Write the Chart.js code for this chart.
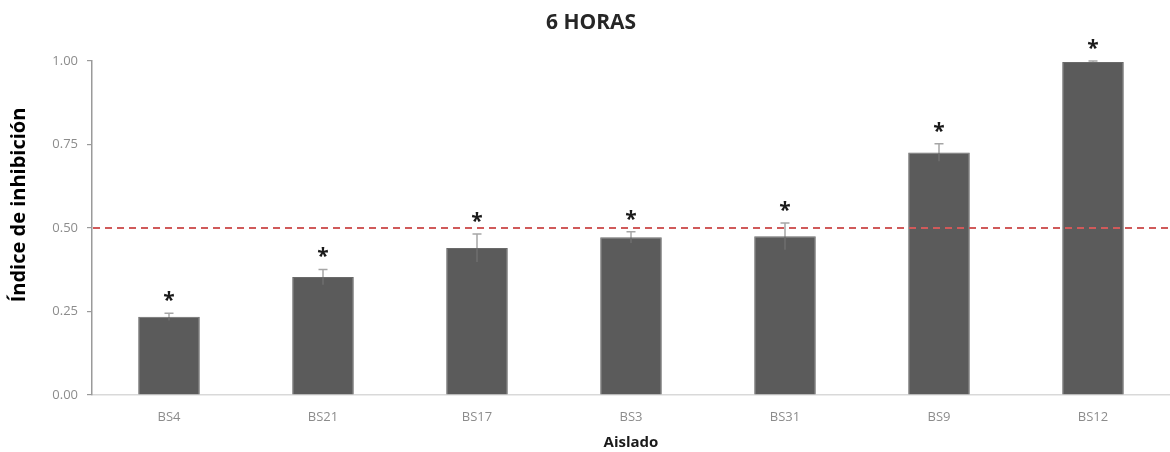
<!DOCTYPE html>
<html>
<head>
<meta charset="utf-8">
<title>6 HORAS</title>
<script src="https://cdn.jsdelivr.net/npm/chart.js@4/dist/chart.umd.min.js"></script>
<style>
  html, body { margin: 0; padding: 0; background: #fff; }
  #wrap { width: 1170px; height: 452px; position: relative; }
</style>
</head>
<body>
<div id="wrap"><canvas id="chart" width="1170" height="452"></canvas></div>
<script>
// Inhibition index per isolate after 6 hours
const categories = ['BS4', 'BS21', 'BS17', 'BS3', 'BS31', 'BS9', 'BS12'];
const meanValues = [0.234, 0.353, 0.440, 0.472, 0.475, 0.726, 0.997];
const errorValues = [0.011, 0.023, 0.042, 0.017, 0.040, 0.026, 0.003];
const significance = ['*', '*', '*', '*', '*', '*', '*'];
const yTicks = [0, 0.25, 0.5, 0.75, 1.0];
const threshold = 0.5;

const FONT = "'Open Sans', 'DejaVu Sans', sans-serif";

// Error bars, significance marks, threshold line and titles
const overlay = {
  id: 'overlay',
  afterDatasetsDraw(chart) {
    const { ctx, chartArea, scales } = chart;
    const y = scales.y;
    const meta = chart.getDatasetMeta(0);
    ctx.save();
    meta.data.forEach((bar, i) => {
      const cx = bar.x;
      const top = y.getPixelForValue(meanValues[i] + errorValues[i]);
      const mid = y.getPixelForValue(meanValues[i]);
      const low = y.getPixelForValue(meanValues[i] - errorValues[i]);
      ctx.lineWidth = 1.5;
      ctx.strokeStyle = '#6e6e6e';
      ctx.beginPath(); ctx.moveTo(cx, mid); ctx.lineTo(cx, low); ctx.stroke();
      ctx.strokeStyle = '#a6a6a6';
      ctx.beginPath();
      ctx.moveTo(cx, mid); ctx.lineTo(cx, top);
      ctx.moveTo(cx - 4.5, top); ctx.lineTo(cx + 4.5, top);
      ctx.stroke();
      ctx.fillStyle = '#1a1a1a';
      ctx.font = "bold 21px " + FONT;
      ctx.textAlign = 'center';
      ctx.textBaseline = 'middle';
      ctx.fillText(significance[i], cx, top - 12);
    });
    // 0.5 threshold
    const ty = y.getPixelForValue(threshold);
    ctx.strokeStyle = '#d05a5a';
    ctx.lineWidth = 1.8;
    ctx.setLineDash([7, 5]);
    ctx.beginPath();
    ctx.moveTo(chartArea.left + 1, ty);
    ctx.lineTo(chart.width, ty);
    ctx.stroke();
    ctx.setLineDash([]);
    // chart title
    ctx.fillStyle = '#262626';
    ctx.font = "bold 21px " + FONT;
    ctx.textAlign = 'center';
    ctx.textBaseline = 'middle';
    ctx.fillText('6 HORAS', 591, 23);
    // y axis title
    ctx.translate(19, 205);
    ctx.rotate(-Math.PI / 2);
    ctx.fillStyle = '#000';
    ctx.font = "bold 20px " + FONT;
    ctx.fillText('Índice de inhibición', 0, 0);
    ctx.restore();
  }
};

new Chart(document.getElementById('chart'), {
  type: 'bar',
  data: {
    labels: categories,
    datasets: [{
      data: meanValues,
      backgroundColor: '#5b5b5b',
      borderColor: '#6a6a6a',
      borderWidth: 1,
      categoryPercentage: 1.0,
      barPercentage: 0.40
    }]
  },
  options: {
    responsive: false,
    animation: false,
    devicePixelRatio: 1,
    layout: { padding: { top: 61, right: 0, bottom: 0, left: 0 } },
    plugins: {
      legend: { display: false },
      tooltip: { enabled: false },
      title: { display: false }
    },
    scales: {
      x: {
        grid: { display: false, drawTicks: false },
        border: { display: true, color: '#d9d9d9', width: 1.5 },
        ticks: {
          color: '#8c8c8c',
          font: { family: FONT, size: 13 },
          padding: 14
        },
        title: {
          display: true,
          text: 'Aislado',
          color: '#1a1a1a',
          font: { family: FONT, size: 15, weight: 'bold' },
          padding: { top: 0, bottom: 0 }
        },
        afterFit(scale) { scale.height = 57; }
      },
      y: {
        min: 0,
        max: 1,
        afterBuildTicks(scale) { scale.ticks = yTicks.map(v => ({ value: v })); },
        grid: {
          display: true,
          drawOnChartArea: false,
          drawTicks: true,
          tickLength: 5,
          color: '#9a9a9a',
          lineWidth: 1.2
        },
        border: { display: true, color: '#9a9a9a', width: 1.5 },
        ticks: {
          color: '#8c8c8c',
          font: { family: FONT, size: 13 },
          padding: 9,
          callback: v => Number(v).toFixed(2)
        },
        title: { display: false },
        afterFit(scale) { scale.width = 92; }
      }
    }
  },
  plugins: [overlay]
});
</script>
</body>
</html>
